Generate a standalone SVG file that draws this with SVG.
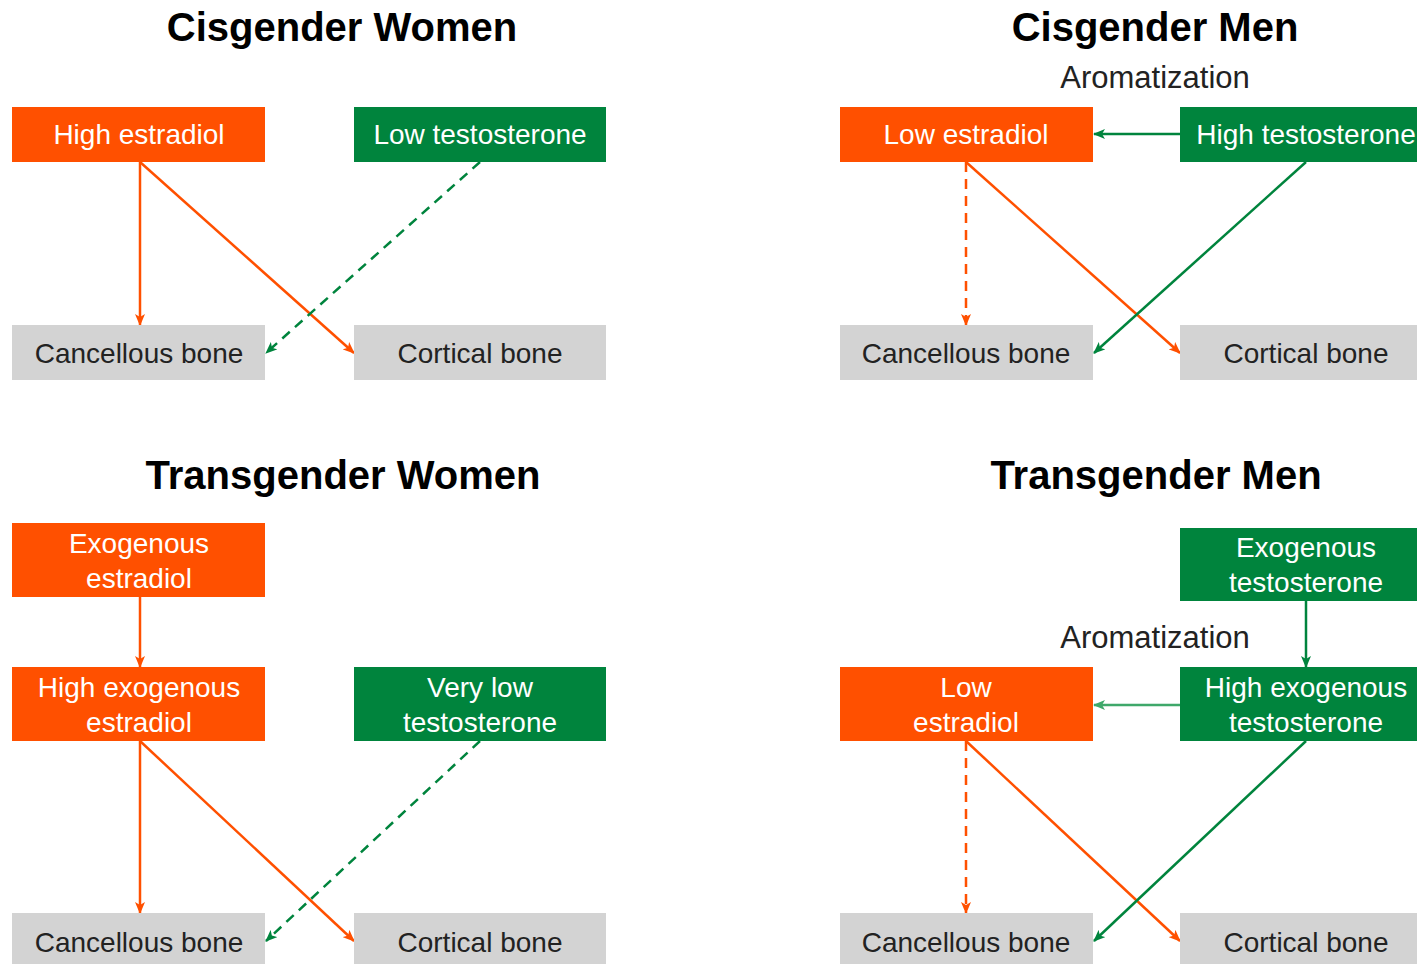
<svg xmlns="http://www.w3.org/2000/svg" width="1417" height="964" viewBox="0 0 1417 964">
<style>
text{font-family:"Liberation Sans",Arial,sans-serif;text-anchor:middle}
.title{font-size:40px;font-weight:bold;fill:#000}
.lbl{font-size:31px;fill:#222}
.o{fill:#FF5000}
.g{fill:#00843D}
.b{fill:#D3D3D3}
.wt{font-size:28px;fill:#fff}
.dt{font-size:28px;fill:#222}
.co{stroke:#FF5000;stroke-width:2.5;fill:none;marker-end:url(#ao)}
.cg{stroke:#00843D;stroke-width:2.5;fill:none;marker-end:url(#ag)}
.cg2{stroke:#3FA86A;stroke-width:2.5;fill:none;marker-end:url(#ag2)}
.d{stroke-dasharray:10,7}
</style>
<defs>
<marker id="ao" markerWidth="12" markerHeight="10" refX="11" refY="5" orient="auto" markerUnits="userSpaceOnUse"><path d="M0,0 L12,5 L0,10 L3,5 Z" fill="#FF5000"/></marker>
<marker id="ag" markerWidth="12" markerHeight="10" refX="11" refY="5" orient="auto" markerUnits="userSpaceOnUse"><path d="M0,0 L12,5 L0,10 L3,5 Z" fill="#00843D"/></marker>
<marker id="ag2" markerWidth="12" markerHeight="10" refX="11" refY="5" orient="auto" markerUnits="userSpaceOnUse"><path d="M0,0 L12,5 L0,10 L3,5 Z" fill="#3FA86A"/></marker>
</defs>
<rect width="1417" height="964" fill="#fff"/>

<!-- Titles -->
<text class="title" x="342" y="41">Cisgender Women</text>
<text class="title" x="1155" y="41">Cisgender Men</text>
<text class="title" x="343" y="489">Transgender Women</text>
<text class="title" x="1156" y="489">Transgender Men</text>
<text class="lbl" x="1155" y="88">Aromatization</text>
<text class="lbl" x="1155" y="648">Aromatization</text>

<g id="connectors">
<!-- Cis women -->
<line class="co" x1="140" y1="162" x2="140" y2="325"/>
<line class="co" x1="140" y1="162" x2="354" y2="353"/>
<line class="cg d" x1="480" y1="162" x2="266" y2="353"/>
<!-- Cis men -->
<line class="cg" x1="1180" y1="134" x2="1094" y2="134"/>
<line class="co d" x1="966" y1="162" x2="966" y2="325"/>
<line class="co" x1="966" y1="162" x2="1180" y2="353"/>
<line class="cg" x1="1306" y1="162" x2="1094" y2="353"/>
<!-- Trans women -->
<line class="co" x1="140" y1="597" x2="140" y2="667"/>
<line class="co" x1="140" y1="741" x2="140" y2="913"/>
<line class="co" x1="140" y1="741" x2="354" y2="941"/>
<line class="cg d" x1="480" y1="741" x2="266" y2="941"/>
<!-- Trans men -->
<line class="cg" x1="1306" y1="601" x2="1306" y2="667"/>
<line class="cg2" x1="1180" y1="705" x2="1094" y2="705"/>
<line class="co d" x1="966" y1="741" x2="966" y2="913"/>
<line class="co" x1="966" y1="741" x2="1180" y2="941"/>
<line class="cg" x1="1306" y1="741" x2="1094" y2="941"/>
</g>

<!-- Cis women nodes -->
<g id="cw-high-estradiol"><rect class="o" x="12" y="107" width="253" height="55"/><text class="wt" x="139" y="144">High estradiol</text></g>
<g id="cw-low-testosterone"><rect class="g" x="354" y="107" width="252" height="55"/><text class="wt" x="480" y="144">Low testosterone</text></g>
<g id="cw-cancellous"><rect class="b" x="12" y="325" width="253" height="55"/><text class="dt" x="139" y="363">Cancellous bone</text></g>
<g id="cw-cortical"><rect class="b" x="354" y="325" width="252" height="55"/><text class="dt" x="480" y="363">Cortical bone</text></g>

<!-- Cis men nodes -->
<g id="cm-low-estradiol"><rect class="o" x="840" y="107" width="253" height="55"/><text class="wt" x="966" y="144">Low estradiol</text></g>
<g id="cm-high-testosterone"><rect class="g" x="1180" y="107" width="253" height="55"/><text class="wt" x="1306" y="144">High testosterone</text></g>
<g id="cm-cancellous"><rect class="b" x="840" y="325" width="253" height="55"/><text class="dt" x="966" y="363">Cancellous bone</text></g>
<g id="cm-cortical"><rect class="b" x="1180" y="325" width="253" height="55"/><text class="dt" x="1306" y="363">Cortical bone</text></g>

<!-- Trans women nodes -->
<g id="tw-exo-estradiol"><rect class="o" x="12" y="523" width="253" height="74"/><text class="wt" x="139" y="553">Exogenous</text><text class="wt" x="139" y="588">estradiol</text></g>
<g id="tw-high-exo-estradiol"><rect class="o" x="12" y="667" width="253" height="74"/><text class="wt" x="139" y="697">High exogenous</text><text class="wt" x="139" y="732">estradiol</text></g>
<g id="tw-very-low-testosterone"><rect class="g" x="354" y="667" width="252" height="74"/><text class="wt" x="480" y="697">Very low</text><text class="wt" x="480" y="732">testosterone</text></g>
<g id="tw-cancellous"><rect class="b" x="12" y="913" width="253" height="55"/><text class="dt" x="139" y="952">Cancellous bone</text></g>
<g id="tw-cortical"><rect class="b" x="354" y="913" width="252" height="55"/><text class="dt" x="480" y="952">Cortical bone</text></g>

<!-- Trans men nodes -->
<g id="tm-exo-testosterone"><rect class="g" x="1180" y="528" width="253" height="73"/><text class="wt" x="1306" y="557">Exogenous</text><text class="wt" x="1306" y="592">testosterone</text></g>
<g id="tm-high-exo-testosterone"><rect class="g" x="1180" y="667" width="253" height="74"/><text class="wt" x="1306" y="697">High exogenous</text><text class="wt" x="1306" y="732">testosterone</text></g>
<g id="tm-low-estradiol"><rect class="o" x="840" y="667" width="253" height="74"/><text class="wt" x="966" y="697">Low</text><text class="wt" x="966" y="732">estradiol</text></g>
<g id="tm-cancellous"><rect class="b" x="840" y="913" width="253" height="55"/><text class="dt" x="966" y="952">Cancellous bone</text></g>
<g id="tm-cortical"><rect class="b" x="1180" y="913" width="253" height="55"/><text class="dt" x="1306" y="952">Cortical bone</text></g>
</svg>
